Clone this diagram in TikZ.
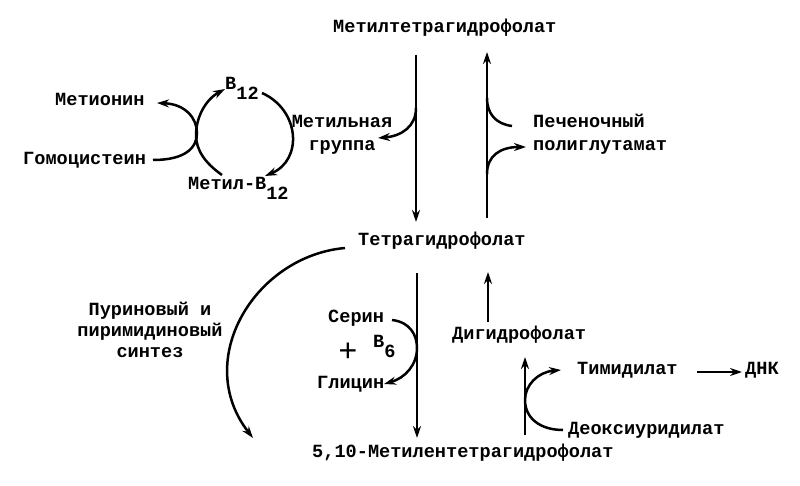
\documentclass[tikz,border=0pt]{standalone}
\usepackage{fontspec}
\setmainfont{Liberation Mono}
\usetikzlibrary{arrows.meta}
\newcommand\lowsub[1]{\raisebox{-10pt}{#1}}
\begin{document}
\begin{tikzpicture}[x=1pt,y=-1pt,
  lbl/.style={inner sep=0pt, font=\fontsize{18.6}{23}\selectfont\bfseries},
  ln/.style={line width=2.5pt},
  arr/.style={ln, -{Stealth[length=12pt,width=8pt]}}]
\useasboundingbox[fill=white] (0,0) rectangle (800,486);
% labels
\node[lbl,anchor=mid west] (mthf) at (333,30) {Метилтетрагидрофолат};
\node[lbl,align=center] (mgr) at (342,135) {Метильная\\группа};
\node[lbl,align=left,anchor=west] (liver) at (533,134) {Печеночный\\полиглутамат};
\node[lbl,anchor=mid west] (thf) at (358,243) {Тетрагидрофолат};
\node[lbl,anchor=mid west] (met) at (55,103) {Метионин};
\node[lbl,anchor=mid west] (hcy) at (23,162) {Гомоцистеин};
\node[lbl,anchor=mid west] (b12) at (225,87) {B\lowsub{12}};
\node[lbl,anchor=mid west] (mb12) at (188,187) {Метил-B\lowsub{12}};
\node[lbl,align=center,font=\fontsize{18.6}{21}\selectfont\bfseries] (pur) at (150,330) {Пуриновый и\\пиримидиновый\\синтез};
\node[lbl,anchor=mid west] (ser) at (328,320) {Серин};
\node[lbl,anchor=mid west] (gly) at (317,386) {Глицин};
\node[lbl,font=\fontsize{32}{32}\selectfont] (plus) at (348,352) {+};
\node[lbl,anchor=mid west] (b6) at (373,345) {B\lowsub{6}};
\node[lbl,anchor=mid west] (dhf) at (452,337) {Дигидрофолат};
\node[lbl,anchor=mid west] (tmp) at (577,372) {Тимидилат};
\node[lbl,anchor=mid west] (dna) at (745,372) {ДНК};
\node[lbl,anchor=mid west] (dump) at (568,432) {Деоксиуридилат};
\node[lbl,anchor=mid west] (mthf2) at (312,455) {5,10-Метилентетрагидрофолат};
% coordinates
\coordinate (d1s) at (416,55);  \coordinate (d1e) at (416,222);
\coordinate (u1s) at (487,218); \coordinate (u1e) at (487,52);
\coordinate (d2s) at (417,273); \coordinate (d2e) at (417,438);
\coordinate (u2s) at (488,322); \coordinate (u2e) at (488,272);
\coordinate (u3s) at (525,435); \coordinate (u3e) at (525,357);
% main vertical arrows
\draw[arr] (d1s) -- (d1e);
\draw[arr] (u1s) -- (u1e);
\draw[arr] (d2s) -- (d2e);
\draw[arr] (u2s) -- (u2e);
\draw[arr] (u3s) -- (u3e);
% branches on top pair
\draw[arr] (416,108) .. controls (416,126) and (402,136) .. (378,138);
\draw[ln] (512,126) .. controls (496,124) and (487,114) .. (487,98);
\draw[arr] (487,174) .. controls (487,156) and (500,147) .. (526,147);
% B12 cycle
\draw[arr] (153,160) .. controls (185,160) and (197,148) .. (197,133) .. controls (197,118) and (185,104) .. (157,103);
\draw[arr] (222,175) .. controls (205,163) and (196,150) .. (196,135) .. controls (196,118) and (205,100) .. (225,89);
\draw[arr] (262,93) .. controls (300,110) and (303,160) .. (265,176);
% large arc
\draw[arr] (345,248) .. controls (255,256) and (192,360) .. (253,438);
% serine / glycine
\draw[arr] (392,320) .. controls (410,322) and (417,335) .. (417,348) .. controls (417,365) and (405,378) .. (384,384);
% deoxyuridylate / thymidylate
\draw[arr] (563,430) .. controls (540,430) and (525,418) .. (525,400) .. controls (525,385) and (538,372) .. (561,370);
\draw[arr, shorten <=19pt, shorten >=3pt] (tmp.mid east) -- (dna.mid west);
\end{tikzpicture}
\end{document}
